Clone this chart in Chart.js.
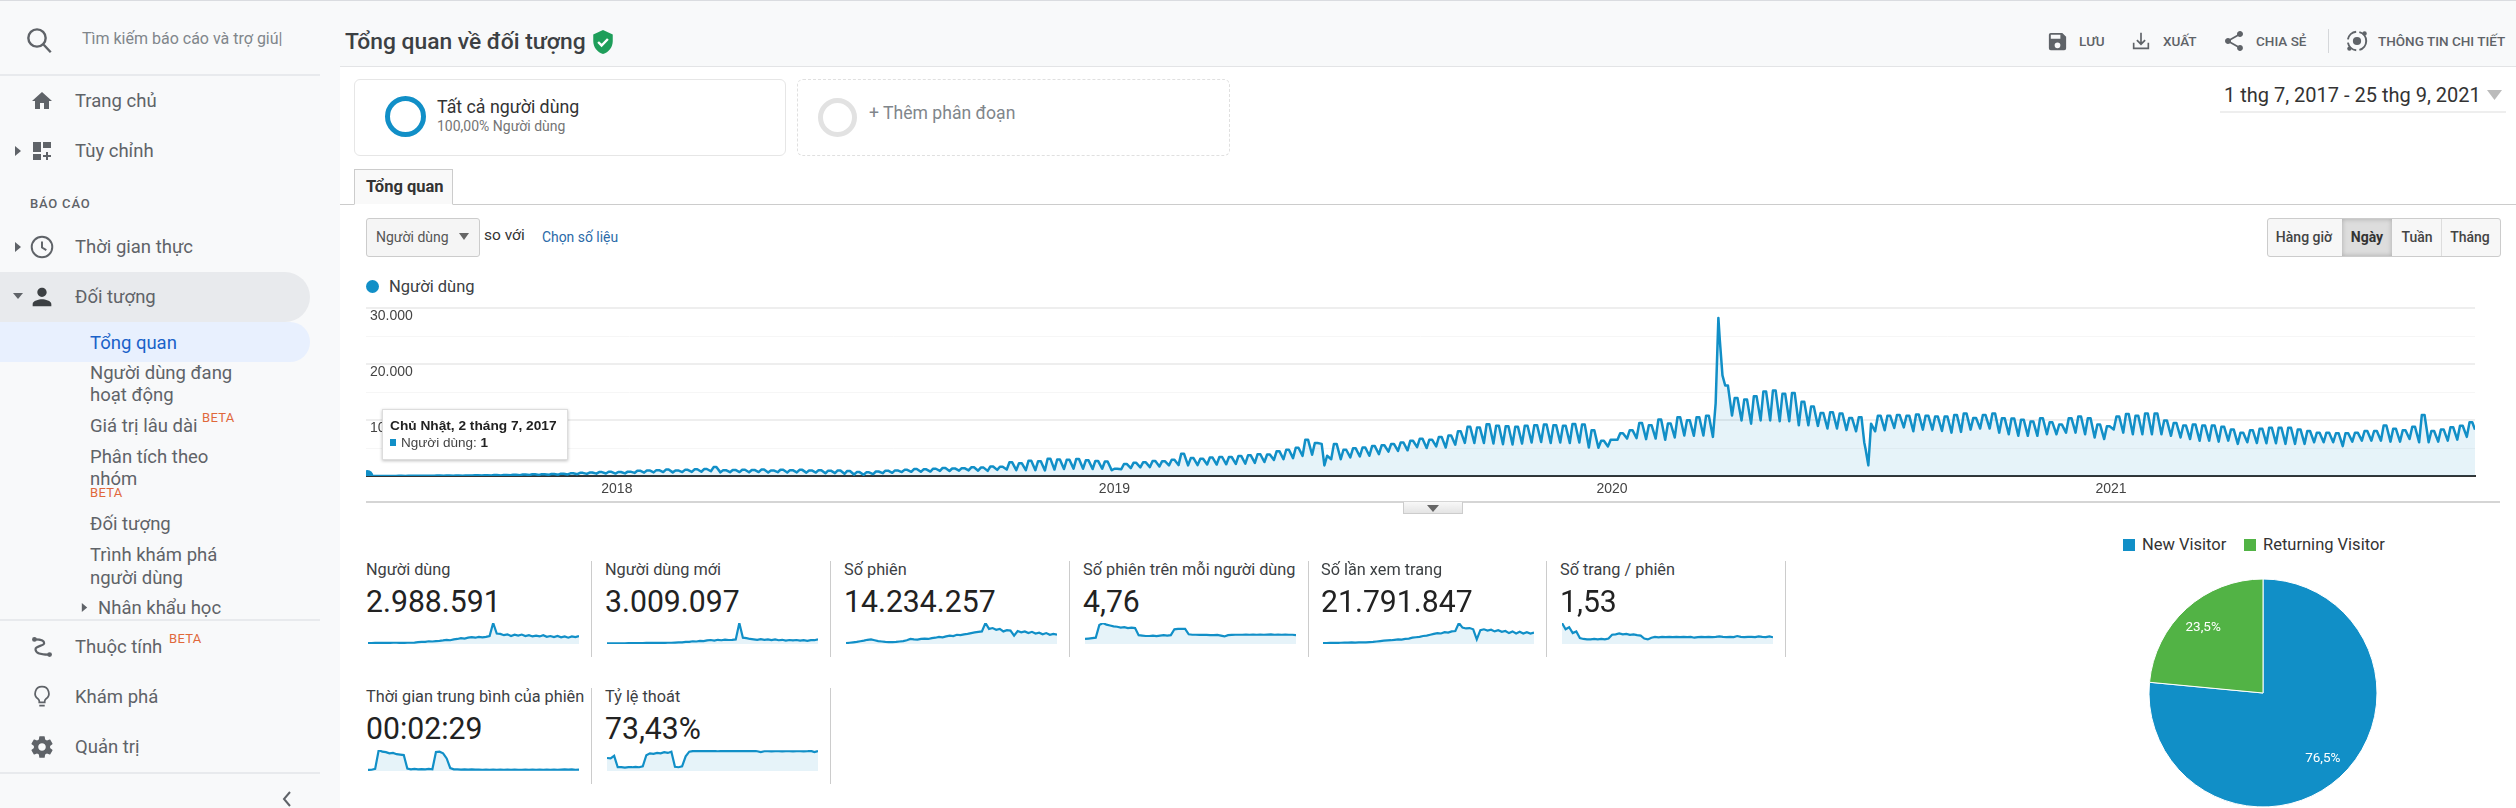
<!DOCTYPE html>
<html lang="vi"><head><meta charset="utf-8"><title>Tổng quan về đối tượng</title>
<script src="https://cdn.jsdelivr.net/npm/chart.js@4"></script>
<style>
html,body{margin:0;padding:0;width:2516px;height:808px;overflow:hidden;background:#fff;font-family:Roboto,sans-serif;color:#3c4043}
.b,.t,svg,canvas{position:absolute}
.t{white-space:nowrap;transform:translateY(-50%);line-height:1.2}
.nav{font-size:18.5px;color:#5f6368;left:75px}
.sub{font-size:18.5px;color:#5f6368;left:90px}
.beta{font-size:13px;color:#e0683a;letter-spacing:.3px}
.act{font-size:13.5px;font-weight:500;color:#5f6368}
.mt{font-size:16.3px;color:#3c4043}
.mv{font-size:30.2px;color:#222;transform:translateY(-50%) scaleY(1.06)}
.sep{width:1px;height:96px;background:#ccc}
.btn{font-size:14px;font-weight:500;color:#444;text-align:center;transform:translate(-50%,-50%)}
svg{fill:#5f6368}
</style></head><body>
<!-- panels -->
<div class="b" style="left:0;top:0;width:340px;height:808px;background:#f8f9fa"></div>
<div class="b" style="left:340px;top:0;width:2176px;height:66px;background:#f8f9fa;border-bottom:1px solid #e3e4e6"></div>
<div class="b" style="left:0;top:0;width:2516px;height:1px;background:#dadce0"></div>
<!-- sidebar -->
<svg style="left:23px;top:24px;width:32px;height:32px" viewBox="0 0 24 24"><path fill="none" stroke="#5f6368" stroke-width="1.8" d="M10.5 4a6.5 6.5 0 1 0 0 13 6.5 6.5 0 0 0 0-13zM15.2 15.2l5.6 6"/></svg>
<div class="t" style="left:82px;top:39px;font-size:16px;color:#80868b">Tìm kiếm báo cáo và trợ giú|</div>
<div class="b" style="left:0;top:74px;width:320px;height:2px;background:#e8eaed"></div>
<svg style="left:30px;top:89px;width:24px;height:24px" viewBox="0 0 24 24"><path d="M10 20v-6h4v6h5v-8h3L12 3 2 12h3v8z"/></svg>
<div class="t nav" style="top:101px">Trang chủ</div>
<svg style="left:13px;top:145px;width:10px;height:12px" viewBox="0 0 10 12"><path d="M2 1l6 5-6 5z"/></svg>
<svg style="left:30px;top:139px;width:24px;height:24px" viewBox="0 0 24 24"><path d="M3 3h8v10H3zM13 3h8v6h-8zM3 15h8v6H3zM16 13h2v3h3v2h-3v3h-2v-3h-3v-2h3z"/></svg>
<div class="t nav" style="top:151px">Tùy chỉnh</div>
<div class="t" style="left:30px;top:204px;font-size:13px;color:#5f6368;letter-spacing:.8px;font-weight:500">BÁO CÁO</div>
<svg style="left:13px;top:241px;width:10px;height:12px" viewBox="0 0 10 12"><path d="M2 1l6 5-6 5z"/></svg>
<svg style="left:29px;top:234px;width:26px;height:26px" viewBox="0 0 24 24"><path fill="none" stroke="#5f6368" stroke-width="1.8" d="M12 2.5a9.5 9.5 0 1 0 0 19 9.5 9.5 0 0 0 0-19zM12 7v5.5l4 2.4"/></svg>
<div class="t nav" style="top:247px">Thời gian thực</div>
<div class="b" style="left:0;top:272px;width:310px;height:50px;background:#e8eaed;border-radius:0 25px 25px 0"></div>
<svg style="left:12px;top:291px;width:12px;height:10px" viewBox="0 0 12 10"><path d="M1 2h10L6 8z"/></svg>
<svg style="left:27px;top:283px;width:30px;height:28px" viewBox="0 0 24 24"><path d="M12 12c2.21 0 4-1.79 4-4s-1.79-4-4-4-4 1.79-4 4 1.79 4 4 4zm0 2c-2.67 0-8 1.34-8 4v2h16v-2c0-2.66-5.33-4-8-4z" fill="#3c4043"/></svg>
<div class="t nav" style="top:297px">Đối tượng</div>
<div class="b" style="left:0;top:322px;width:310px;height:40px;background:#e8f0fe;border-radius:0 20px 20px 0"></div>
<div class="t sub" style="top:343px;color:#1a62c9">Tổng quan</div>
<div class="t sub" style="top:373px">Người dùng đang</div>
<div class="t sub" style="top:395px">hoạt động</div>
<div class="t sub" style="top:426px">Giá trị lâu dài</div><div class="t beta" style="left:202px;top:418px">BETA</div>
<div class="t sub" style="top:457px">Phân tích theo</div>
<div class="t sub" style="top:479px">nhóm</div><div class="t beta" style="left:90px;top:493px">BETA</div>
<div class="t sub" style="top:524px">Đối tượng</div>
<div class="t sub" style="top:555px">Trình khám phá</div>
<div class="t sub" style="top:578px">người dùng</div>
<svg style="left:80px;top:601px;width:9px;height:13px" viewBox="0 0 10 12"><path d="M2 1l6 5-6 5z"/></svg>
<div class="t sub" style="left:98px;top:608px">Nhân khẩu học</div>
<div class="b" style="left:0;top:619px;width:320px;height:2px;background:#e8eaed"></div>
<svg style="left:29px;top:634px;width:26px;height:26px" viewBox="0 0 24 24"><path fill="none" stroke="#5f6368" stroke-width="2" d="M6 5c5 0 8 1 8 3.5S6 11 6 14s4 5 12 5"/><circle cx="5" cy="5" r="2.2"/><circle cx="19" cy="19" r="2.2"/></svg>
<div class="t nav" style="top:647px">Thuộc tính</div><div class="t beta" style="left:169px;top:639px">BETA</div>
<svg style="left:29px;top:684px;width:26px;height:26px" viewBox="0 0 24 24"><path fill="none" stroke="#5f6368" stroke-width="1.6" d="M12 2.5a6.2 6.2 0 0 0-3.5 11.4c.7.6 1 1.4 1 2.1v1h5v-1c0-.7.3-1.5 1-2.1A6.2 6.2 0 0 0 12 2.5zM9.5 20h5"/></svg>
<div class="t nav" style="top:697px">Khám phá</div>
<svg style="left:29px;top:734px;width:26px;height:26px" viewBox="0 0 24 24"><path d="M19.43 12.98c.04-.32.07-.64.07-.98s-.03-.66-.07-.98l2.11-1.65c.19-.15.24-.42.12-.64l-2-3.46c-.12-.22-.39-.3-.61-.22l-2.49 1c-.52-.4-1.08-.73-1.69-.98l-.38-2.65C14.46 2.18 14.25 2 14 2h-4c-.25 0-.46.18-.49.42l-.38 2.65c-.61.25-1.17.59-1.69.98l-2.49-1c-.23-.09-.49 0-.61.22l-2 3.46c-.13.22-.07.49.12.64l2.11 1.65c-.04.32-.07.65-.07.98s.03.66.07.98l-2.11 1.65c-.19.15-.24.42-.12.64l2 3.46c.12.22.39.3.61.22l2.49-1c.52.4 1.08.73 1.69.98l.38 2.65c.03.24.24.42.49.42h4c.25 0 .46-.18.49-.42l.38-2.65c.61-.25 1.17-.59 1.69-.98l2.49 1c.23.09.49 0 .61-.22l2-3.46c.12-.22.07-.49-.12-.64l-2.11-1.65zM12 15.5c-1.93 0-3.5-1.57-3.5-3.5s1.57-3.5 3.5-3.5 3.5 1.57 3.5 3.5-1.57 3.5-3.5 3.5z"/></svg>
<div class="t nav" style="top:747px">Quản trị</div>
<div class="b" style="left:0;top:772px;width:320px;height:2px;background:#e8eaed"></div>
<svg style="left:280px;top:790px;width:14px;height:18px" viewBox="0 0 14 18"><path fill="none" stroke="#5f6368" stroke-width="2" d="M10 2L4 9l6 7"/></svg>
<!-- header -->
<div class="t" style="left:345px;top:42px;font-size:22.8px;font-weight:500;color:#3c4043">Tổng quan về đối tượng</div>
<svg style="left:590px;top:29px;width:26px;height:26px" viewBox="0 0 24 24"><path fill="#1e9e5a" d="M12 1L3 5v6c0 5.6 3.8 10.7 9 12 5.2-1.3 9-6.4 9-12V5z"/><path fill="none" stroke="#fff" stroke-width="2.2" d="M7.5 12l3.2 3.2 5.8-6"/></svg>
<svg style="left:2045.5px;top:29.5px;width:23px;height:23px" viewBox="0 0 24 24"><path d="M17 3H5a2 2 0 0 0-2 2v14a2 2 0 0 0 2 2h14a2 2 0 0 0 2-2V7l-4-4zm-5 16a3 3 0 1 1 0-6 3 3 0 0 1 0 6zm3-10H5V5h10v4z"/></svg>
<div class="t act" style="left:2079px;top:41px">LƯU</div>
<svg style="left:2130px;top:30px;width:22px;height:22px" viewBox="0 0 24 24"><path fill="none" stroke="#5f6368" stroke-width="1.8" d="M12 3v12M7.5 11l4.5 4.5 4.5-4.5M4 14v6h16v-6"/></svg>
<div class="t act" style="left:2163px;top:41px">XUẤT</div>
<svg style="left:2222px;top:29px;width:24px;height:24px" viewBox="0 0 24 24"><path d="M18 16.08c-.76 0-1.44.3-1.96.77L8.91 12.7c.05-.23.09-.46.09-.7s-.04-.47-.09-.7l7.05-4.11c.54.5 1.25.81 2.04.81 1.66 0 3-1.34 3-3s-1.34-3-3-3-3 1.34-3 3c0 .24.04.47.09.7L8.04 9.81C7.5 9.31 6.79 9 6 9c-1.66 0-3 1.34-3 3s1.34 3 3 3c.79 0 1.5-.31 2.04-.81l7.12 4.16c-.05.21-.08.43-.08.65 0 1.61 1.31 2.92 2.92 2.92s2.92-1.31 2.92-2.92-1.31-2.92-2.92-2.92z"/></svg>
<div class="t act" style="left:2256px;top:41px">CHIA SẺ</div>
<div class="b" style="left:2328px;top:29px;width:1px;height:24px;background:#d5d7da"></div>
<svg style="left:2344px;top:28px;width:26px;height:26px" viewBox="0 0 24 24"><circle cx="12" cy="12" r="8.5" fill="none" stroke="#5f6368" stroke-width="1.8" stroke-dasharray="11 3"/><circle cx="12" cy="12" r="3.8"/><circle cx="19" cy="5" r="2"/><circle cx="5" cy="19" r="2"/></svg>
<div class="t act" style="left:2378px;top:41px">THÔNG TIN CHI TIẾT</div>
<!-- segments -->
<div class="b" style="left:354px;top:79px;width:430px;height:75px;background:#fff;border:1px solid #e6e6e6;border-radius:6px"></div>
<div class="b" style="left:385px;top:96px;width:31px;height:31px;border:5.5px solid #118fc7;border-radius:50%"></div>
<div class="t" style="left:437px;top:107px;font-size:17.8px;color:#333">Tất cả người dùng</div>
<div class="t" style="left:437px;top:126px;font-size:14px;color:#757575">100,00% Người dùng</div>
<div class="b" style="left:797px;top:79px;width:431px;height:75px;border:1px dashed #e0e0e0;border-radius:6px"></div>
<div class="b" style="left:818px;top:98px;width:29px;height:29px;border:5px solid #e2e2e2;border-radius:50%"></div>
<div class="t" style="left:869px;top:114px;font-size:17.6px;color:#80868b">+ Thêm phân đoạn</div>
<div class="t" style="left:2224px;top:95px;font-size:20px;color:#333">1 thg 7, 2017 - 25 thg 9, 2021</div>
<svg style="left:2487px;top:90px;width:15px;height:10px" viewBox="0 0 15 10"><path fill="#bbb" d="M0 0h15L7.5 10z"/></svg>
<div class="b" style="left:2220px;top:111px;width:286px;height:2px;background:#eee"></div>
<!-- tab -->
<div class="b" style="left:340px;top:204px;width:2176px;height:1px;background:#ccc"></div>
<div class="b" style="left:354px;top:169px;width:99px;height:36px;background:#f9f9f9;border:1px solid #ccc;border-bottom:1px solid #fff;box-sizing:border-box"></div>
<div class="t" style="left:366px;top:187px;font-size:16.5px;font-weight:700;color:#333">Tổng quan</div>
<!-- controls -->
<div class="b" style="left:366px;top:218px;width:112px;height:37px;background:#f5f5f5;border:1px solid #ccc;border-radius:3px"></div>
<div class="t" style="left:376px;top:237px;font-size:14px;color:#555">Người dùng</div>
<svg style="left:459px;top:233px;width:10px;height:7px" viewBox="0 0 10 7"><path fill="#666" d="M0 0h10L5 7z"/></svg>
<div class="t" style="left:484px;top:235px;font-size:15.5px;color:#333">so với</div>
<div class="t" style="left:542px;top:237px;font-size:13.9px;color:#2a6aa8">Chọn số liệu</div>
<div class="b" style="left:2267px;top:218px;width:232px;height:37px;background:#f7f7f7;border:1px solid #ccc;border-radius:3px"></div>
<div class="b" style="left:2342px;top:219px;width:50px;height:37px;background:#ddd;box-shadow:inset 0 0 5px #aaa"></div>
<div class="b" style="left:2441px;top:219px;width:1px;height:37px;background:#ddd"></div>
<div class="t btn" style="left:2304px;top:237px">Hàng giờ</div>
<div class="t btn" style="left:2367px;top:237px;font-weight:700;color:#333">Ngày</div>
<div class="t btn" style="left:2417px;top:237px">Tuần</div>
<div class="t btn" style="left:2470px;top:237px">Tháng</div>
<!-- main chart -->
<div class="b" style="left:366px;top:280px;width:13px;height:13px;border-radius:50%;background:#118fc7"></div>
<div class="t" style="left:389px;top:287px;font-size:16.5px;color:#3c4043">Người dùng</div>
<canvas id="mainChart" style="left:366px;top:296px"></canvas>
<div class="b" style="left:366px;top:501px;width:2134px;height:2px;background:#d5d5d5"></div>
<div class="b" style="left:1403px;top:502px;width:60px;height:12px;background:linear-gradient(#f8f8f8,#e4e4e4);border:1px solid #ccc;border-top:0;box-sizing:border-box"></div>
<svg style="left:1427px;top:505px;width:12px;height:7px" viewBox="0 0 12 7"><path fill="#666" d="M0 0h12L6 7z"/></svg>
<div class="b" style="left:382px;top:409px;width:184px;height:49px;background:#fff;border:1px solid #ddd;box-shadow:0 1px 3px rgba(0,0,0,.25)"></div>
<div class="t" style="left:390px;top:425px;font:700 13.7px 'Liberation Sans',Arial,sans-serif;color:#222">Chủ Nhật, 2 tháng 7, 2017</div>
<div class="b" style="left:390px;top:439px;width:6px;height:7px;background:#118fc7"></div>
<div class="t" style="left:401px;top:442px;font:13.5px 'Liberation Sans',Arial,sans-serif;color:#444">Người dùng: <b style="color:#222">1</b></div>
<!-- metric cells -->
<div id="cells"></div>
<!-- pie -->
<div class="b" style="left:2123px;top:539px;width:12px;height:12px;background:#118fc7"></div>
<div class="t" style="left:2142px;top:545px;font-size:16.5px;color:#333">New Visitor</div>
<div class="b" style="left:2244px;top:539px;width:12px;height:12px;background:#52b345"></div>
<div class="t" style="left:2263px;top:545px;font-size:16.5px;color:#333">Returning Visitor</div>
<canvas id="pieChart" style="left:2140px;top:570px"></canvas>
<script>
// Weekly reading of the daily "Người dùng" line: lows (Sunday) and highs (mid-week), week 0 = July 2017
const weeklyLows = [
1,5,10,15,20,25,30,35,40,50,60,70,80,90,110,120,140,170,190,210,
240,280,330,380,420,450,430,470,550,600,650,700,650,700,720,760,850,
650,680,700,660,700,620,680,640,650,600,620,500,520,400,280,230,350,500,
570,700,750,750,800,920,900,950,1000,950,920,1100,1150,1050,1030,1050,1000,1150,1250,1320,
1300,1250,1300,1030,1200,1400,1550,1600,1700,1900,1950,
1900,1950,2050,2050,2100,2150,2200,2350,2500,2870,3000,3200,3600,3800,4000,3000,
3000,3330,3500,3620,3900,4370,4500,4600,
5175,5000,5300,5100,5600,5920,5920,5900,5800,5700,5635,5800,6000,6095,5900,6000,5900,6000,5100,5060,
5300,6500,6700,6785,6600,6700,6500,6900,7245,7200,7245,7000,18000,
10810,9950,9370,9950,9950,9800,9800,9085,9085,8970,8500,8500,8220,8000,8300,8000,8200,8600,8700,8000,8300,8300,
8050,7760,7900,8300,8500,8500,7760,7475,7190,7190,7190,7475,7475,7760,7760,7475,6900,6610,8340,7760,
7475,7475,7475,7475,7190,6900,6610,6325,6325,6150,6325,5750,6040,5900,5870,5870,5750,5750,5750,6040,
6040,6040,5350,6150,6325,6325,6325,6150,6150,6610,6040,6040,6150,6325,6500,7000];
const weeklyHighs = [
5,15,20,30,40,50,60,70,80,90,110,130,150,170,200,230,260,300,330,360,
420,480,560,620,700,750,720,780,950,1000,1050,1150,1000,1100,1200,1250,1600,
1050,1080,1120,1080,1150,1000,1120,1050,1100,1000,1050,950,1000,900,700,650,800,950,
1000,1100,1250,1200,1300,1440,1350,1400,1550,1500,1700,1650,2450,2300,2750,2650,3100,2950,2900,3050,
2800,2700,2600,1300,2150,2350,2450,2700,2650,2900,4000,
3200,3100,3300,3400,3400,3600,3700,3900,3850,4450,4700,5050,6500,5900,5650,5750,
4700,4950,5100,5350,5500,5750,6000,6300,
6670,6500,7000,7245,8000,8800,8700,9260,9000,8900,8800,9000,9100,9200,9100,9000,9300,9200,8200,6300,
6500,7650,8200,9490,9100,10120,9400,10520,10000,10520,10800,28300,16200,
13970,13700,14260,15120,15300,14720,14835,13280,12420,11270,11400,11200,10400,10500,10800,10800,10800,10900,10800,11000,10800,10640,
10640,10900,11200,10400,10900,11200,10350,10300,10060,9775,10350,9600,9200,10350,10640,10350,9200,8900,10640,11100,
10800,11200,11200,9950,9490,9030,9200,9030,9030,8800,8340,7760,8200,8450,8625,8625,8625,8340,8050,7760,
7760,7650,7650,7760,8050,8050,9030,8450,8200,8800,10925,8050,8340,8740,9000,9630];
// Single days read individually: [day since 1 Jul 2017, users]
const singleDays = [[0,1],[701,5750],[703,1900],[705,3620],[990,13000],[993,24500],[1099,6000],[1100,4800],[1102,1900],[1104,9370],[1547,8300]];
const yearDays = [184,549,914,1280];
const yearLabels = ['2018','2019','2020','2021'];
const yTickLabels = ['10.000','20.000','30.000'];
const pieLabels = ['New Visitor','Returning Visitor'];
const pieValues = [76.5,23.5];
const pieText = ['76,5%','23,5%'];

const metricNames = ['Người dùng','Người dùng mới','Số phiên','Số phiên trên mỗi người dùng','Số lần xem trang','Số trang / phiên','Thời gian trung bình của phiên','Tỷ lệ thoát'];
const metricValues = ['2.988.591','3.009.097','14.234.257','4,76','21.791.847','1,53','00:02:29','73,43%'];
// Sparklines, as percent of each small chart's own height
const sparkUsers = [4,4,5,5,5,6,5,6,6,5,5,6,6,7,9,10,10,13,12,14,15,17,20,18,22,24,28,26,30,33,30,34,32,34,38,100,50,48,42,46,38,44,40,45,38,42,36,40,36,42,34,38,33,38,32,36,30,36,33,38];
const sparkNewUsers = [3,3,3,3,3,3,4,4,4,4,4,5,5,5,5,5,5,6,6,7,8,8,10,10,13,12,15,14,17,19,16,20,18,21,19,20,22,100,30,28,24,22,20,23,20,22,19,22,18,20,16,19,17,19,16,18,15,18,18,22];
const sparkSessions = [4,6,8,10,13,16,20,22,18,14,12,10,9,9,10,12,14,18,24,22,21,24,26,24,28,30,34,32,36,40,38,44,42,46,48,52,55,58,60,100,72,76,68,72,60,66,64,40,62,56,60,52,58,50,54,46,52,44,48,45];
const sparkPerUser = [24,26,28,30,90,100,92,88,84,82,78,80,76,78,76,42,40,38,38,40,38,40,42,40,42,70,72,72,72,46,44,44,43,44,43,42,42,43,40,36,42,43,44,44,44,45,44,45,44,45,44,45,46,44,45,44,45,44,44,42];
const sparkViews = [4,4,5,5,5,6,7,7,8,7,8,8,8,9,10,12,14,16,17,18,20,22,21,24,26,30,32,34,38,40,44,48,52,50,56,54,60,62,100,78,74,76,70,22,66,70,64,68,60,66,58,62,52,60,50,58,50,56,50,54];
const sparkPages = [100,70,80,52,60,28,24,22,22,24,22,24,22,26,44,46,50,46,48,44,46,42,40,26,22,30,34,32,34,33,34,33,34,33,34,33,34,30,33,34,33,34,33,34,36,34,33,34,33,38,34,33,34,34,33,36,34,33,36,32];
const sparkDuration = [5,6,10,100,92,90,84,86,80,78,76,12,8,10,8,9,8,10,8,90,92,84,60,14,8,8,7,8,7,8,7,7,6,7,6,7,6,7,6,7,6,7,6,6,7,6,7,6,7,6,7,6,7,6,7,8,7,8,6,7];
const sparkBounce = [62,60,72,18,18,16,18,18,20,18,22,75,84,82,86,84,90,86,92,20,18,22,70,92,95,95,96,95,95,95,95,94,95,95,95,96,95,96,95,96,95,96,94,90,94,94,93,94,94,93,94,94,93,94,94,93,94,96,90,95];
const metricSparks = [sparkUsers,sparkNewUsers,sparkSessions,sparkPerUser,sparkViews,sparkPages,sparkDuration,sparkBounce];

const BLUE='#118fc7', FILL='rgba(5,141,199,0.1)';
Chart.defaults.animation=false;
Chart.defaults.responsive=false;
Chart.defaults.plugins.legend.display=false;
Chart.defaults.plugins.tooltip.enabled=false;

// merge weekly readings and single days into one day-indexed series
const byDay=new Map();
weeklyLows.forEach((v,w)=>{byDay.set(w*7+1,v);byDay.set(w*7+3,weeklyHighs[w]);byDay.set(w*7+5,weeklyHighs[w]);});
singleDays.forEach(([d,v])=>byDay.set(d,v));
const mainPoints=[...byDay.entries()].sort((a,b)=>a[0]-b[0]).map(([x,y])=>({x,y}));

function sizeCanvas(id,w,h){const c=document.getElementById(id);c.width=w;c.height=h;c.style.width=w+'px';c.style.height=h+'px';return c;}

new Chart(sizeCanvas('mainChart',2115,210),{
  type:'line',
  data:{datasets:[{data:mainPoints,parsing:false,borderColor:BLUE,backgroundColor:FILL,borderWidth:2.5,fill:'origin',tension:0,borderJoinStyle:'round',
    pointBackgroundColor:BLUE,pointBorderWidth:0,pointRadius:c=>c.raw&&c.raw.x===1?6:0}]},
  options:{layout:{padding:{top:6,right:6,left:0,bottom:0}},
    scales:{
      x:{type:'linear',min:0,max:1547,afterFit:s=>{s.height=30;},
        afterBuildTicks:s=>{s.ticks=yearDays.map(v=>({value:v}));},
        grid:{display:false,drawTicks:false},border:{display:true,color:'#333',width:2},
        ticks:{autoSkip:false,maxRotation:0,padding:5,color:'#444',font:{family:"'Liberation Sans',Arial,sans-serif",size:14},
          callback:v=>yearLabels[yearDays.indexOf(v)]}},
      y:{min:0,max:30000,afterFit:s=>{s.width=0;},
        grid:{drawTicks:false,color:c=>c.tick.value%10000?'#f6f6f6':'#eeeeee',lineWidth:c=>c.tick.value%10000?1:2},
        border:{display:false},
        ticks:{stepSize:5000,mirror:true,padding:4,labelOffset:8,color:'#444',font:{family:"'Liberation Sans',Arial,sans-serif",size:14},
          callback:v=>(v>0&&v%10000===0)?yTickLabels[v/10000-1]:''}}
    }}
});

const cellX=[366,605,844,1083,1321,1560];
const cells=document.getElementById('cells');
metricNames.forEach((name,i)=>{
  const col=i%6,row=Math.floor(i/6),x=cellX[col],dy=row*127;
  cells.insertAdjacentHTML('beforeend',
    `<div class="t mt" style="left:${x}px;top:${570+dy}px">${name}</div>
     <div class="t mv" style="left:${x}px;top:${602+dy}px">${metricValues[i]}</div>
     <canvas id="spark${i}" style="left:${x+2}px;top:${620+dy}px"></canvas>
     <div class="b sep" style="left:${x+225}px;top:${561+dy}px"></div>`);
});
metricSparks.forEach((vals,i)=>{
  new Chart(sizeCanvas('spark'+i,211,24),{
    type:'line',
    data:{labels:vals.map((_,k)=>k),datasets:[{data:vals,borderColor:BLUE,backgroundColor:FILL,borderWidth:2.2,fill:'origin',tension:0,pointRadius:0}]},
    options:{layout:{padding:{top:3}},scales:{x:{display:false},y:{display:false,min:0,max:100}}}
  });
});

const sliceLabels={id:'sliceLabels',afterDatasetsDraw(ch){
  const g=ch.ctx;g.save();g.fillStyle='#fff';g.font='13.5px Roboto';g.textAlign='center';g.textBaseline='middle';
  ch.getDatasetMeta(0).data.forEach((a,i)=>{
    const mid=(a.startAngle+a.endAngle)/2,r=a.outerRadius*0.78;
    g.fillText(pieText[i],a.x+Math.cos(mid)*r,a.y+Math.sin(mid)*r);
  });g.restore();}};
new Chart(sizeCanvas('pieChart',246,246),{
  type:'pie',plugins:[sliceLabels],
  data:{labels:pieLabels,datasets:[{data:pieValues,backgroundColor:[BLUE,'#52b345'],borderColor:'#fff',borderWidth:1}]},
  options:{layout:{padding:8.5}}
});
</script>
</body></html>
